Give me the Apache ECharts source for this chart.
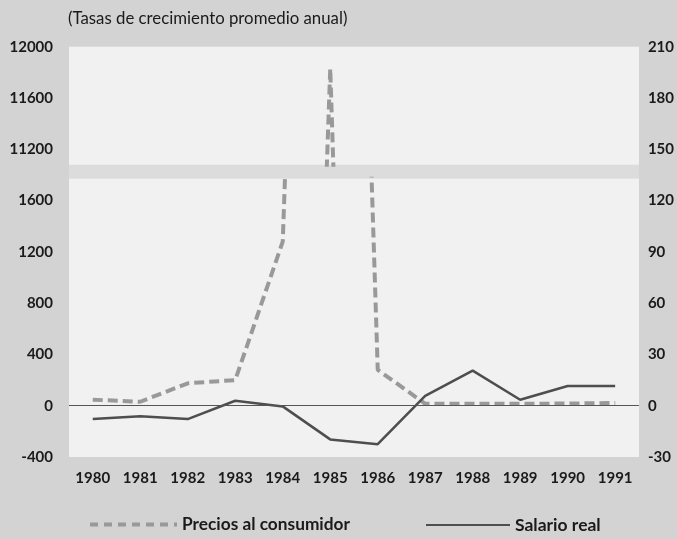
<!DOCTYPE html>
<html><head><meta charset="utf-8">
<script src="https://cdn.jsdelivr.net/npm/echarts@6/dist/echarts.min.js"></script>
<style>html,body{margin:0;padding:0;background:#d3d3d3}#c{width:677px;height:539px}</style>
</head><body><div id="c"></div>
<script>
// ---- data ----
const years = ['1980','1981','1982','1983','1984','1985','1986','1987','1988','1989','1990','1991'];
const precios = [47, 31, 175, 200, 1280, 11830, 280, 15, 16, 15, 17, 21];   // left axis (broken)
const salario = [-7.8, -6.1, -7.8, 2.9, -0.4, -19.7, -22.5, 5.8, 20.5, 3.5, 11.5, 11.5]; // right axis
const ticksLow = [-400, 0, 400, 800, 1200, 1600];
const ticksHigh = [11200, 11600, 12000];
const ticksRight = [-30, 0, 30, 60, 90, 120, 150, 180, 210];

const FONT = 'Lato';
const plain = v => String(v);
const labelStyle = {fontFamily: FONT, fontWeight: 'bold', fontSize: 15, color: '#1a1a1a'};
const gridL = 69, gridR = 38;

const chart = echarts.init(document.getElementById('c'), null, {renderer: 'canvas'});
const hiddenX = (gi) => ({type: 'category', data: years, gridIndex: gi, boundaryGap: true, show: false});

chart.setOption({
  animation: false,
  backgroundColor: '#d3d3d3',
  title: {
    text: '(Tasas de crecimiento promedio anual)',
    left: 68, top: 10, padding: 0,
    textStyle: {fontFamily: FONT, fontWeight: 'normal', fontSize: 16.8, color: '#1a1a1a'}
  },
  grid: [
    {left: gridL, right: gridR, top: 46.7, bottom: 82, show: true, backgroundColor: '#dcdcdc', borderWidth: 0},
    {left: gridL, right: gridR, top: 178.8, bottom: 82, show: true, backgroundColor: '#f1f1f1', borderWidth: 0},
    {left: gridL, right: gridR, top: 46.7, bottom: 374.34, show: true, backgroundColor: '#f1f1f1', borderWidth: 0}
  ],
  legend: [
    {data: ['Precios al consumidor'], left: 88, top: 516, padding: 0, itemWidth: 87, itemHeight: 10,
     textStyle: {fontFamily: FONT, fontWeight: 'bold', fontSize: 17.3, color: '#1a1a1a'},
     itemStyle: {opacity: 0},
     lineStyle: {type: [8, 6], width: 4}},
    {data: ['Salario real'], left: 425, top: 516, padding: 0, itemWidth: 84, itemHeight: 10,
     itemStyle: {opacity: 0},
     textStyle: {fontFamily: FONT, fontWeight: 'bold', fontSize: 17.5, color: '#1a1a1a'}}
  ],
  xAxis: [
    {type: 'category', data: years, gridIndex: 0, boundaryGap: true,
     axisLine: {show: false}, axisTick: {show: false},
     axisLabel: Object.assign({margin: 14}, labelStyle)},
    hiddenX(1), hiddenX(2)
  ],
  yAxis: [
    {type: 'value', gridIndex: 0, position: 'right', min: -30, max: 210, interval: 30,
     axisLine: {show: false}, axisTick: {show: false}, splitLine: {show: false},
     axisLabel: Object.assign({margin: 9, customValues: ticksRight, formatter: plain}, labelStyle)},
    {type: 'value', gridIndex: 1, position: 'left', min: -400, max: 1770, interval: 400,
     axisLine: {show: false}, axisTick: {show: false}, splitLine: {show: false},
     axisLabel: Object.assign({margin: 16, customValues: ticksLow, formatter: plain}, labelStyle)},
    {type: 'value', gridIndex: 2, position: 'left', min: 11080, max: 12000,
     axisLine: {show: false}, axisTick: {show: false}, splitLine: {show: false},
     axisLabel: Object.assign({margin: 16, customValues: ticksHigh, formatter: plain}, labelStyle)}
  ],
  series: [
    {name: 'Precios al consumidor', type: 'line', xAxisIndex: 1, yAxisIndex: 1, data: precios,
     symbol: 'none', lineStyle: {color: '#999', width: 4, type: [10, 5]}, itemStyle: {color: '#999'}, z: 3},
    {name: 'Precios al consumidor', type: 'line', xAxisIndex: 2, yAxisIndex: 2, data: precios,
     symbol: 'none', lineStyle: {color: '#999', width: 4, type: [10, 5]}, itemStyle: {color: '#999'}, z: 3},
    {name: 'Salario real', type: 'line', xAxisIndex: 0, yAxisIndex: 0, data: salario,
     symbol: 'none', lineStyle: {color: '#4e4e4e', width: 2.5}, itemStyle: {color: '#4e4e4e'}, z: 4,
     markLine: {silent: true, symbol: 'none', label: {show: false},
       lineStyle: {color: '#555', width: 1, type: 'solid'}, data: [{yAxis: 0}]}}
  ]
});
</script></body></html>
